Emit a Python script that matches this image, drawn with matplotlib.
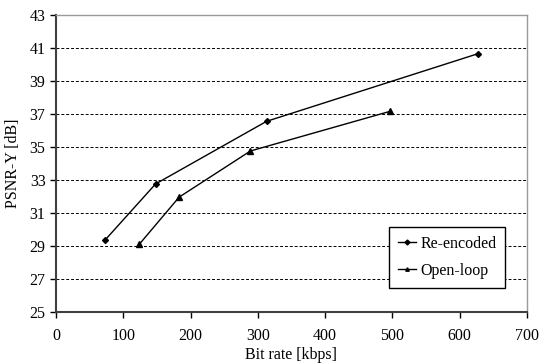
import matplotlib
matplotlib.use("Agg")
import matplotlib.pyplot as plt

re_x = [73, 148, 313, 627]
re_y = [29.35, 32.75, 36.55, 40.65]
ol_x = [124, 183, 289, 496]
ol_y = [29.1, 31.95, 34.75, 37.15]
xticks = [0, 100, 200, 300, 400, 500, 600, 700]
yticks = [25, 27, 29, 31, 33, 35, 37, 39, 41, 43]

plt.rcParams['font.family'] = ['Liberation Serif', 'DejaVu Serif']
plt.rcParams['font.size'] = 11.5

fig = plt.figure(figsize=(5.4, 3.64), dpi=100)
ax = fig.add_axes([0.1037, 0.1437, 0.8722, 0.8151])

for y in yticks[1:-1]:
    ax.axhline(y, color='black', lw=0.7, ls=(0, (3, 2)), zorder=1)

ax.plot(re_x, re_y, color='black', lw=1, marker='D', ms=3, label='Re-encoded', zorder=3)
ax.plot(ol_x, ol_y, color='black', lw=1, marker='^', ms=4, label='Open-loop', zorder=3)

ax.set_xlim(0, 700)
ax.set_ylim(25, 43)
ax.set_xticks(xticks)
ax.set_yticks(yticks)
ax.tick_params(direction='out', length=4, width=1, color='black', labelsize=11.5)
ax.tick_params(axis='x', pad=8)

for s in ['left', 'bottom']:
    ax.spines[s].set_color('#404040')
    ax.spines[s].set_linewidth(1.5)
for s in ['top', 'right']:
    ax.spines[s].set_color('#9a9a9a')
    ax.spines[s].set_linewidth(1)

ax.set_xlabel('Bit rate [kbps]', fontsize=11.5, labelpad=2)
ax.set_ylabel('PSNR-Y [dB]', fontsize=11.5, labelpad=6)

leg = ax.legend(loc='lower right', bbox_to_anchor=(0.971, 0.054), frameon=True, fancybox=False,
                edgecolor='black', framealpha=1, handlelength=1.1, borderpad=0.55,
                labelspacing=0.7, handletextpad=0.3, fontsize=11.5)
leg.get_frame().set_linewidth(1)
for h in leg.legend_handles:
    h.set_markersize(2.5)

fig.savefig('out.png', dpi=100)
